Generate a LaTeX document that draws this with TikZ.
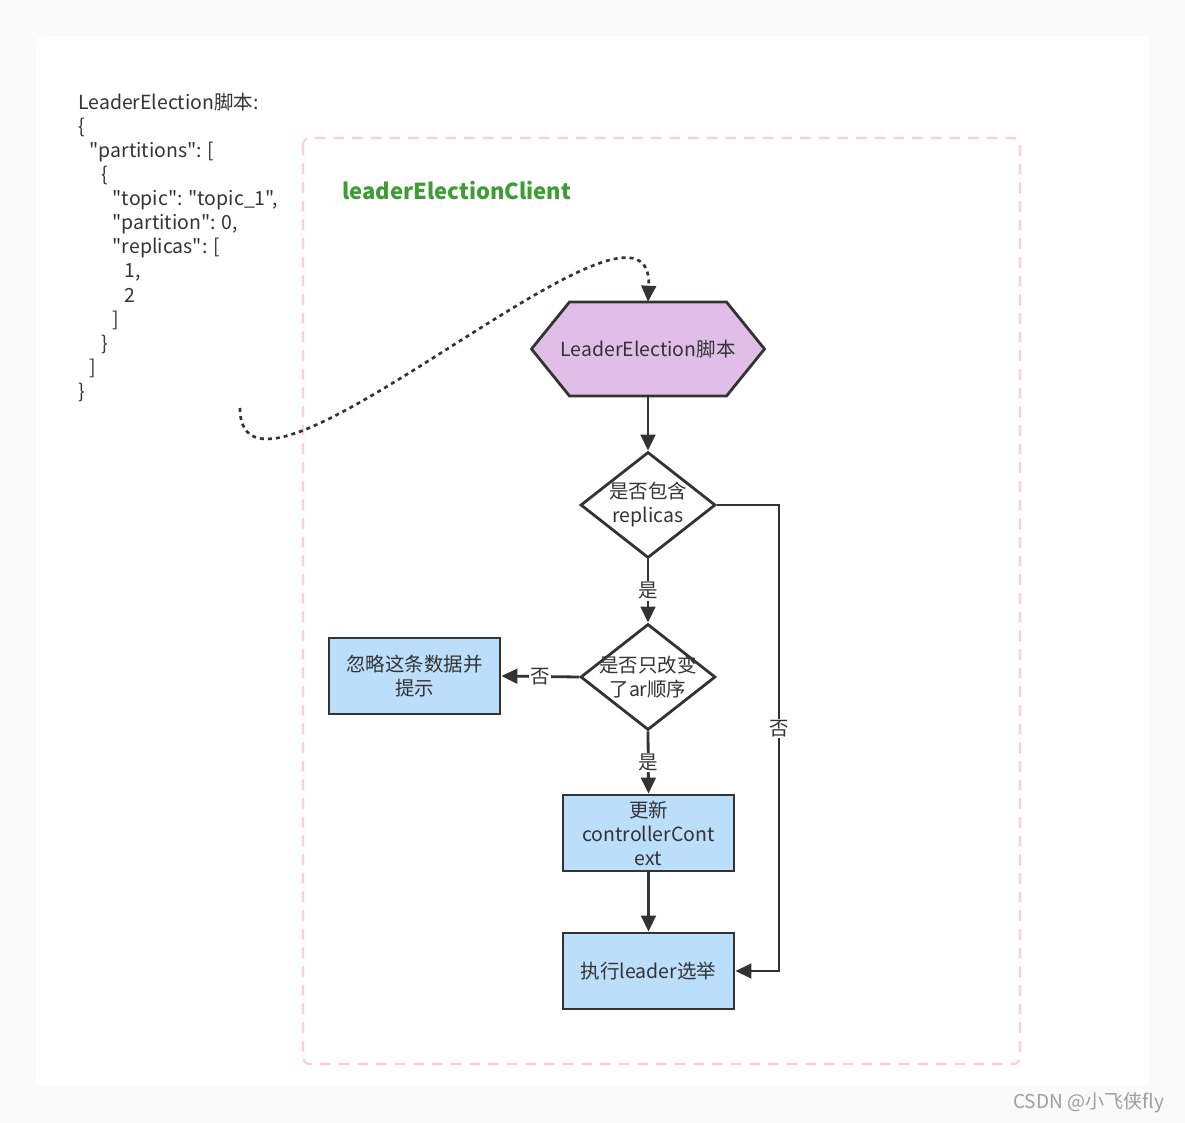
\documentclass[tikz,border=0pt]{standalone}
\usepackage{fontspec}
\setmainfont{Noto Sans CJK SC}[Ligatures=TeXOff]
\usepackage{tikz}
\usetikzlibrary{positioning,arrows.meta,calc,shapes.geometric,backgrounds}
\definecolor{linec}{HTML}{333333}
\definecolor{hexfill}{HTML}{E1BEE7}
\definecolor{boxfill}{HTML}{BBDEFB}
\definecolor{framec}{HTML}{FFCDD2}
\definecolor{titlegreen}{HTML}{3F9C35}
\definecolor{pagebg}{HTML}{FAFAFA}

\begin{document}
\begin{tikzpicture}[x=0.75pt, y=-0.75pt,
  every node/.style={font=\fontsize{14.6pt}{18pt}\selectfont, text=linec},
  flow/.style={draw=linec, line width=2.1pt, -{Triangle[length=12pt,width=11pt]}},
  process/.style={rectangle, draw=linec, fill=boxfill, line width=2.1pt,
    minimum width=128.25pt, minimum height=57pt, align=center, inner sep=0pt},
  decision/.style={diamond, draw=linec, fill=white, line width=2.1pt,
    minimum width=101.25pt, minimum height=79.5pt, inner sep=0pt},
  hexnode/.style={rectangle, minimum height=70.5pt, inner sep=0pt},
  lbl/.style={fill=white, inner sep=1pt},
  code/.style={anchor=base west, inner sep=0pt},
  dotline/.style={draw=linec, line width=2pt, dash pattern=on 3pt off 3pt,
    -{Triangle[length=12pt,width=11pt]}}]
  \useasboundingbox (0,0) rectangle (1185,1123);
  \begin{scope}[on background layer]
    \fill[pagebg] (0,0) rectangle (1185,1123);
    \fill[white, rounded corners=6pt] (36,36) rectangle (1149,1086);
  \end{scope}
  % client frame
  \draw[framec, line width=1.6pt, dash pattern=on 8pt off 6pt, rounded corners=5pt]
    (303,138) rectangle (1020,1064);
  \node[anchor=west, inner sep=0pt, font=\fontsize{16.5pt}{20pt}\selectfont\bfseries, text=titlegreen]
    (client) at (342,191) {leaderElectionClient};

  % json script text
  \foreach \i/\ind/\txt in {0/0/{LeaderElection脚本:}, 1/0/\{, 2/1/{"partitions": [},
      3/2/\{, 4/3/{"topic": "topic\_1",}, 5/3/{"partition": 0,}, 6/3/{"replicas": [},
      7/4/{1,}, 8/4/2, 9/3/], 10/2/\}, 11/1/], 12/0/\}} {
    \node[code] (j\i) at (78+\ind*11.5, 110+\i*24) {\txt};
  }

  % flow nodes
  \node[hexnode] (script) at (648,349) {LeaderElection脚本};
  \node[decision, label={[align=center]center:是否包含\\replicas}] (rep) at (648,505) {};
  \node[decision, label={[align=center]center:是否只改变\\了ar顺序}] (order) at (648,677) {};
  \node[process] (ignore) at (414.5,676) {忽略这条数据并\\提示};
  \node[process] (update) at (648.5,833) {更新\\controllerCont\\ext};
  \node[process] (elect) at (648.5,971) {执行leader选举};

  \begin{scope}[on background layer]
    \draw[linec, fill=hexfill, line width=2.1pt, line join=miter]
      ($(script)+(-78.5,-47)$) -- ($(script)+(78.5,-47)$) -- ($(script)+(116.5,0)$)
      -- ($(script)+(78.5,47)$) -- ($(script)+(-78.5,47)$) -- ($(script)+(-116.5,0)$) -- cycle;
  \end{scope}

  % edges
  \coordinate (jsonEnd) at (240,408);
  \draw[dotline] (jsonEnd) .. controls (240,550) and (655,150) .. (script.north);
  \draw[flow] (script.south) -- (rep.north);
  \draw[flow] (rep.south) -- node[lbl] {是} (order.north);
  \draw[flow] (order.west) -- node[lbl] {否} (ignore.east);
  \draw[flow] (order.south) -- node[lbl] {是} (update.north);
  \draw[flow] (update.south) -- (elect.north);
  \draw[flow] (rep.east) -- ++(62,0) |- node[lbl, pos=0.24] {否} (elect.east);

  \node[anchor=east, font=\fontsize{14.3pt}{16pt}\selectfont, text=black!38]
    (mark) at (1169,1103) {CSDN @小飞侠fly};
\end{tikzpicture}
\end{document}
